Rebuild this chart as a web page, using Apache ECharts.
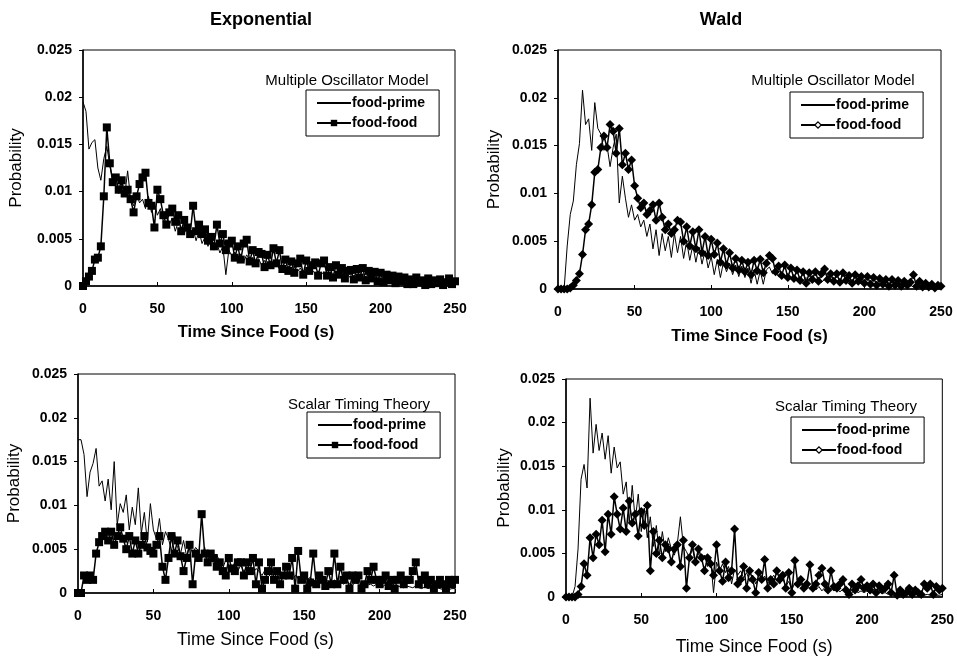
<!DOCTYPE html>
<html>
<head>
<meta charset="utf-8">
<script src="https://cdn.jsdelivr.net/npm/echarts@6/dist/echarts.min.js"></script>
<style>
    html, body { margin: 0; padding: 0; background: #fff; }
    #main { width: 957px; height: 659px; }
</style>
</head>
<body>
<div id="main"></div>
<script>
// time axis (s), one sample every 2 s
var times = [
    0, 2, 4, 6, 8, 10, 12, 14, 16, 18,
    20, 22, 24, 26, 28, 30, 32, 34, 36, 38,
    40, 42, 44, 46, 48, 50, 52, 54, 56, 58,
    60, 62, 64, 66, 68, 70, 72, 74, 76, 78,
    80, 82, 84, 86, 88, 90, 92, 94, 96, 98,
    100, 102, 104, 106, 108, 110, 112, 114, 116, 118,
    120, 122, 124, 126, 128, 130, 132, 134, 136, 138,
    140, 142, 144, 146, 148, 150, 152, 154, 156, 158,
    160, 162, 164, 166, 168, 170, 172, 174, 176, 178,
    180, 182, 184, 186, 188, 190, 192, 194, 196, 198,
    200, 202, 204, 206, 208, 210, 212, 214, 216, 218,
    220, 222, 224, 226, 228, 230, 232, 234, 236, 238,
    240, 242, 244, 246, 248, 250
];
var xTicks = [0, 50, 100, 150, 200, 250];
var yTicks = [0, 0.005, 0.01, 0.015, 0.02, 0.025];
var panelTitles = ['Exponential', 'Wald'];
var modelNames = ['Multiple Oscillator Model', 'Scalar Timing Theory'];

// Exponential / Multiple Oscillator Model
var expMomPrime = [
    0.0195, 0.0185, 0.0145, 0.0152, 0.0155, 0.0125, 0.0112, 0.0135, 0.0148, 0.0128,
    0.0112, 0.0105, 0.0098, 0.0108, 0.0095, 0.0122, 0.0092, 0.0085, 0.0098, 0.0088,
    0.0092, 0.0082, 0.0095, 0.0078, 0.0088, 0.0075, 0.0082, 0.0068, 0.0078, 0.0065,
    0.0072, 0.0058, 0.0068, 0.0062, 0.0055, 0.0065, 0.0052, 0.006, 0.0048, 0.0058,
    0.0045, 0.0052, 0.0042, 0.005, 0.0038, 0.0045, 0.0035, 0.0042, 0.0012, 0.0038,
    0.0032, 0.0036, 0.0028, 0.0034, 0.0026, 0.0033, 0.0028, 0.003, 0.0024, 0.0029,
    0.0022, 0.0027, 0.002, 0.0025, 0.0021, 0.0024, 0.0018, 0.0022, 0.0017, 0.0021,
    0.0016, 0.002, 0.0015, 0.0019, 0.0014, 0.0018, 0.0013, 0.0017, 0.0013, 0.0016,
    0.0012, 0.0015, 0.0011, 0.0014, 0.001, 0.0013, 0.001, 0.0012, 0.0009, 0.0012,
    0.0008, 0.0011, 0.0008, 0.001, 0.0007, 0.001, 0.0007, 0.0009, 0.0006, 0.0008,
    0.0006, 0.0008, 0.0005, 0.0007, 0.0005, 0.0007, 0.0004, 0.0006, 0.0004, 0.0006,
    0.0004, 0.0005, 0.0003, 0.0005, 0.0003, 0.0005, 0.0003, 0.0004, 0.0002, 0.0004,
    0.0002, 0.0004, 0.0002, 0.0003, 0.0002, 0.0003
];
var expMomFood = [
    0, 0.0005, 0.001, 0.0016, 0.0028, 0.003, 0.0042, 0.0095, 0.0168, 0.013,
    0.011, 0.0115, 0.0102, 0.0112, 0.0098, 0.0102, 0.0092, 0.0078, 0.0095, 0.0108,
    0.0115, 0.012, 0.0088, 0.0085, 0.0062, 0.0102, 0.0092, 0.0075, 0.0065, 0.0078,
    0.0082, 0.0068, 0.0075, 0.0058, 0.007, 0.0062, 0.0055, 0.0085, 0.0058, 0.0065,
    0.0055, 0.006, 0.0048, 0.0052, 0.0042, 0.0065, 0.0045, 0.0055, 0.0038, 0.0045,
    0.0048, 0.003, 0.0042, 0.0028, 0.0045, 0.0049, 0.0026, 0.0038, 0.0024, 0.0036,
    0.0034, 0.002, 0.0033, 0.0022, 0.004, 0.0024, 0.0038, 0.0018, 0.0028, 0.0016,
    0.0026, 0.0014, 0.0024, 0.0029, 0.0012, 0.0027, 0.0016, 0.0022, 0.0025, 0.0011,
    0.0024, 0.0027, 0.0011, 0.002, 0.0009, 0.0022, 0.0012, 0.0019, 0.0008, 0.0016,
    0.0017, 0.0007, 0.0018, 0.0009, 0.0019, 0.0006, 0.0016, 0.0008, 0.0015, 0.0005,
    0.0014, 0.0004, 0.0012, 0.0006, 0.0011, 0.0003, 0.001, 0.0005, 0.0009, 0.0002,
    0.0007, 0.0002, 0.0009, 0.0004, 0.0006, 0.0001, 0.0008, 0.0002, 0.0006, 0.0003,
    0.0007, 0.0001, 0.0004, 0.0008, 0.0002, 0.0005
];

// Wald / Multiple Oscillator Model
var waldMomPrime = [
    0, 0, 0, 0.0045, 0.0078, 0.0092, 0.013, 0.0152, 0.0208, 0.0172,
    0.0178, 0.0145, 0.0195, 0.0168, 0.0162, 0.0145, 0.015, 0.0128, 0.0148, 0.0162,
    0.009, 0.0118, 0.0095, 0.0075, 0.0088, 0.0072, 0.0078, 0.0065, 0.0072, 0.0055,
    0.0068, 0.0042, 0.0062, 0.0035, 0.0058, 0.004, 0.0055, 0.0033, 0.0058, 0.0038,
    0.0055, 0.0032, 0.005, 0.003, 0.0046, 0.0028, 0.0044, 0.0026, 0.004, 0.0022,
    0.0034, 0.0015, 0.0031, 0.0012, 0.0028, 0.0018, 0.0027, 0.0015, 0.0025, 0.0013,
    0.0024, 0.0012, 0.0022, 0.0006, 0.002, 0.0005, 0.0019, 0.0005, 0.002, 0.0023,
    0.0016, 0.0018, 0.0013, 0.0016, 0.0012, 0.0015, 0.0011, 0.0014, 0.001, 0.0013,
    0.0009, 0.0012, 0.0008, 0.0011, 0.0008, 0.001, 0.0007, 0.001, 0.0007, 0.0009,
    0.0007, 0.0009, 0.0006, 0.0008, 0.0006, 0.0008, 0.0005, 0.0008, 0.0005, 0.0007,
    0.0005, 0.0007, 0.0005, 0.0006, 0.0004, 0.0006, 0.0004, 0.0005, 0.0004, 0.0005,
    0.0003, 0.0005, 0.0003, 0.0004, 0.0003, 0.0004, 0.0002, 0.0004, 0.0002, 0.0003,
    0.0002, 0.0003, 0.0002, 0.0003, 0.0002, 0.0002
];
var waldMomFood = [
    0, 0, 0, 0, 0.0001, 0.0004, 0.0009, 0.0016, 0.0036, 0.0062,
    0.0068, 0.0088, 0.0122, 0.0125, 0.0148, 0.016, 0.0148, 0.0172, 0.0165, 0.0142,
    0.0168, 0.013, 0.0142, 0.0125, 0.0135, 0.0108, 0.0095, 0.0085, 0.009, 0.0078,
    0.0082, 0.0088, 0.0072, 0.009, 0.0075, 0.0062, 0.0068, 0.0058, 0.0062, 0.0072,
    0.007, 0.005, 0.0065, 0.0045, 0.006, 0.0042, 0.0062, 0.0038, 0.0055, 0.0035,
    0.0052, 0.0036, 0.0048, 0.0028, 0.0042, 0.0025, 0.0038, 0.0022, 0.0032, 0.002,
    0.003, 0.0018, 0.0028, 0.0015, 0.003, 0.0019, 0.0031, 0.0017, 0.0027, 0.0035,
    0.0032, 0.0018, 0.0024, 0.0014, 0.0025, 0.0012, 0.0022, 0.0011, 0.002, 0.0009,
    0.0018, 0.0006, 0.0017, 0.001, 0.0018, 0.0008, 0.0016, 0.0021, 0.001, 0.0016,
    0.0008, 0.0016, 0.0007, 0.0017, 0.0009, 0.0014, 0.0006, 0.0015, 0.0008, 0.0013,
    0.0006, 0.0013, 0.0005, 0.0012, 0.0004, 0.0011, 0.0005, 0.001, 0.0003, 0.001,
    0.0004, 0.0009, 0.0003, 0.0008, 0.0004, 0.0007, 0.0015, 0.0003, 0.0008, 0.0002,
    0.0006, 0.0002, 0.0005, 0.0001, 0.0004, 0.0003
];

// Exponential / Scalar Timing Theory
var expSttPrime = [
    0.0175, 0.0175, 0.0158, 0.011, 0.0138, 0.0148, 0.0165, 0.0122, 0.0128, 0.0105,
    0.013, 0.0095, 0.015, 0.0078, 0.0102, 0.0092, 0.0112, 0.0072, 0.0098, 0.0078,
    0.012, 0.0068, 0.0092, 0.0058, 0.0102, 0.0072, 0.0062, 0.0085, 0.0055, 0.007,
    0.0062, 0.0048, 0.0068, 0.0052, 0.0045, 0.006, 0.0042, 0.0055, 0.0045, 0.0052,
    0.0048, 0.004, 0.0052, 0.0036, 0.0046, 0.0032, 0.0044, 0.0035, 0.0028, 0.0038,
    0.0032, 0.0028, 0.0035, 0.0025, 0.0032, 0.0024, 0.003, 0.0026, 0.0022, 0.0028,
    0.0025, 0.002, 0.0026, 0.0022, 0.0018, 0.0025, 0.002, 0.0023, 0.0017, 0.0022,
    0.0019, 0.0015, 0.002, 0.0017, 0.0014, 0.0019, 0.0015, 0.0018, 0.0013, 0.0016,
    0.0014, 0.0012, 0.0016, 0.0013, 0.0011, 0.0015, 0.0012, 0.0014, 0.001, 0.0013,
    0.0011, 0.0009, 0.0012, 0.001, 0.0008, 0.0011, 0.0009, 0.001, 0.0008, 0.001,
    0.0009, 0.0007, 0.001, 0.0008, 0.0006, 0.0009, 0.0007, 0.0008, 0.0006, 0.0008,
    0.0007, 0.0006, 0.0008, 0.0006, 0.0005, 0.0007, 0.0005, 0.0006, 0.0004, 0.0006,
    0.0005, 0.0004, 0.0006, 0.0004, 0.0005, 0.0005
];
var expSttFood = [
    0, 0, 0.002, 0.0015, 0.002, 0.0015, 0.0045, 0.0058, 0.0065, 0.007,
    0.006, 0.007, 0.0055, 0.0065, 0.0075, 0.0062, 0.005, 0.0065, 0.0045, 0.006,
    0.0045, 0.0055, 0.0065, 0.0052, 0.0048, 0.0045, 0.0055, 0.0065, 0.003, 0.0015,
    0.004, 0.0065, 0.0045, 0.006, 0.0042, 0.0025, 0.004, 0.0055, 0.001, 0.0045,
    0.004, 0.009, 0.0045, 0.0035, 0.0045, 0.004, 0.003, 0.0035, 0.0025, 0.002,
    0.004, 0.0028, 0.0025, 0.0035, 0.0035, 0.002, 0.0035, 0.0025, 0.004, 0.001,
    0.0035, 0.0005, 0.0015, 0.0025, 0.0035, 0.0015, 0.0025, 0.001, 0.002, 0.003,
    0.002, 0.004, 0.0005, 0.0048, 0.0015, 0.002, 0.0005, 0.0012, 0.0045, 0.001,
    0.002, 0.0015, 0.0008, 0.0025, 0.001, 0.0045, 0.001, 0.003, 0.0015, 0.002,
    0.0005, 0.002, 0.0015, 0.002, 0.0005, 0.001, 0.0025, 0.0015, 0.003, 0.0015,
    0.001, 0.0015, 0.002, 0.0008, 0.0015, 0.0005, 0.0015, 0.002, 0.001, 0.0015,
    0.0015, 0.0025, 0.0035, 0.001, 0.0015, 0.002, 0.001, 0.0015, 0.0005, 0.001,
    0.0015, 0.001, 0.0005, 0.0015, 0.001, 0.0015
];

// Wald / Scalar Timing Theory
var waldSttPrime = [
    0, 0, 0, 0.0012, 0.0055, 0.0135, 0.0152, 0.0125, 0.0228, 0.0165,
    0.0198, 0.0168, 0.0188, 0.0158, 0.0185, 0.0142, 0.0172, 0.0148, 0.0155, 0.0118,
    0.0132, 0.0085, 0.0128, 0.0088, 0.0118, 0.0075, 0.0102, 0.0068, 0.0092, 0.0058,
    0.0082, 0.0048, 0.0075, 0.0052, 0.0068, 0.0055, 0.0048, 0.0062, 0.0092, 0.0058,
    0.0052, 0.0045, 0.0055, 0.004, 0.005, 0.0042, 0.0048, 0.0035, 0.0045, 0.0005,
    0.004, 0.003, 0.0038, 0.0028, 0.0035, 0.0015, 0.0032, 0.0025, 0.003, 0.0022,
    0.0028, 0.0018, 0.0025, 0.0015, 0.0022, 0.0018, 0.0024, 0.0015, 0.002, 0.0025,
    0.0018, 0.0015, 0.0022, 0.0012, 0.0018, 0.0008, 0.0016, 0.0012, 0.0015, 0.001,
    0.0014, 0.0009, 0.0013, 0.0008, 0.0012, 0.0007, 0.0011, 0.0008, 0.001, 0.0007,
    0.0009, 0.0006, 0.0009, 0.0006, 0.0008, 0.0005, 0.0008, 0.0005, 0.0007, 0.0005,
    0.0007, 0.0004, 0.0006, 0.0005, 0.0006, 0.0004, 0.0005, 0.0003, 0.0005, 0.0004,
    0.0004, 0.0003, 0.0005, 0.0003, 0.0004, 0.0002, 0.0004, 0.0003, 0.0003, 0.0002,
    0.0003, 0.0002, 0.0003, 0.0002, 0.0002, 0.0003
];
var waldSttFood = [
    0, 0, 0, 0, 0.0003, 0.0012, 0.0038, 0.0025, 0.0068, 0.0045,
    0.0072, 0.006, 0.0088, 0.0052, 0.0095, 0.0072, 0.0115, 0.0095, 0.0078, 0.0102,
    0.0075, 0.011, 0.0085, 0.0095, 0.007, 0.0098, 0.0082, 0.0105, 0.003, 0.0075,
    0.005, 0.0065, 0.0045, 0.006, 0.0055, 0.004, 0.0055, 0.006, 0.0035, 0.0065,
    0.001, 0.0045, 0.006, 0.004, 0.0055, 0.0045, 0.003, 0.0045, 0.0038, 0.0025,
    0.006, 0.003, 0.0018, 0.004, 0.0022, 0.003, 0.0078, 0.0015, 0.002, 0.0035,
    0.001, 0.003, 0.002, 0.0005, 0.0028, 0.002, 0.0043, 0.001, 0.002, 0.0015,
    0.003, 0.002, 0.0025, 0.001, 0.0028, 0.0005, 0.0042, 0.0015, 0.002, 0.001,
    0.0015, 0.0037, 0.001, 0.0015, 0.0025, 0.0033, 0.0015, 0.0008, 0.003, 0.0012,
    0.001, 0.0015, 0.002, 0.0008, 0.0003, 0.0015, 0.0008, 0.0013, 0.002, 0.001,
    0.0013, 0.0008, 0.0015, 0.0005, 0.0013, 0.0008, 0.001, 0.0015, 0.0005, 0.0025,
    0.0002, 0.0008, 0.0003, 0.0005, 0.001, 0.0003, 0.0008, 0.0005, 0.0003, 0.0015,
    0.001, 0.0015, 0.0003, 0.0012, 0.0008, 0.001
];

var myChart = echarts.init(document.getElementById('main'));

var font = 'Liberation Sans, Arial, sans-serif';
// panel boxes [left, top, width, height] in px
var grids = [
    [83, 50, 372, 236],
    [558, 50, 383, 239],
    [78, 374, 377, 219],
    [566, 379, 377, 218]
];
var xNameGaps = [38, 39, 38, 41];
var xNameShift = [26, 0, 22, 0];   // right padding pulls the title left
var yNameGaps = [58, 55, 55, 53];
var xNameBold = [true, true, false, false];

function pairs(vals) {
    return times.map(function (t, i) { return [t, vals[i]]; });
}

var xAxes = [], yAxes = [], gridOpts = [];
grids.forEach(function (g, i) {
    gridOpts.push({
        left: g[0], top: g[1], width: g[2], height: g[3],
        show: true, borderColor: '#000', borderWidth: 1, backgroundColor: '#fff'
    });
    xAxes.push({
        gridIndex: i, type: 'value', min: xTicks[0], max: xTicks[xTicks.length - 1], interval: 50,
        name: 'Time Since Food (s)', nameLocation: 'middle', nameGap: xNameGaps[i],
        nameTextStyle: {
            fontFamily: font, color: '#000',
            fontSize: xNameBold[i] ? 16.5 : 17.5,
            fontWeight: xNameBold[i] ? 'bold' : 'normal',
            padding: [0, xNameShift[i], 0, 0]
        },
        axisLine: { lineStyle: { color: '#000', width: 1.5 } },
        axisTick: { inside: true, length: 4, lineStyle: { color: '#000' } },
        axisLabel: { fontFamily: font, fontWeight: 'bold', fontSize: 14, color: '#000', margin: 16 },
        splitLine: { show: false }
    });
    yAxes.push({
        gridIndex: i, type: 'value', min: yTicks[0], max: yTicks[yTicks.length - 1], interval: 0.005,
        name: 'Probability', nameLocation: 'middle', nameGap: yNameGaps[i],
        nameTextStyle: { fontFamily: font, fontSize: 17, color: '#000' },
        axisLine: { show: true, lineStyle: { color: '#000', width: 1.5 } },
        axisTick: { show: true, length: 4, lineStyle: { color: '#000' } },
        axisLabel: { fontFamily: font, fontWeight: 'bold', fontSize: 14, color: '#000', margin: 11 },
        splitLine: { show: false }
    });
});

// series per panel: [primeData, foodData, marker]
var panels = [
    [expMomPrime, expMomFood, 'rect'],
    [waldMomPrime, waldMomFood, 'diamond'],
    [expSttPrime, expSttFood, 'rect'],
    [waldSttPrime, waldSttFood, 'diamond']
];
var series = [];
panels.forEach(function (p, i) {
    series.push({
        name: 'fp' + i, type: 'line', xAxisIndex: i, yAxisIndex: i,
        data: pairs(p[0]), symbol: 'none',
        lineStyle: { color: '#000', width: 1 }, itemStyle: { color: '#000' },
        z: 3
    });
    series.push({
        name: 'ff' + i, type: 'line', xAxisIndex: i, yAxisIndex: i,
        data: pairs(p[1]), symbol: p[2], symbolSize: p[2] === 'rect' ? 8 : 9,
        lineStyle: { color: '#000', width: 1.5 }, itemStyle: { color: '#000' },
        z: 2
    });
});

var legendBoxes = [
    [306, 90], [790, 92], [307, 412], [791, 417]
];
var legends = legendBoxes.map(function (b, i) {
    var diamond = panels[i][2] === 'diamond';
    return {
        left: b[0], top: b[1], orient: 'vertical',
        itemWidth: 34, itemHeight: 8, itemGap: 6,
        padding: [6, 14, 6, 10],
        borderColor: '#000', borderWidth: 1, backgroundColor: '#fff',
        selectedMode: false,
        textStyle: { fontFamily: font, fontWeight: 'bold', fontSize: 14, color: '#000', padding: [0, 0, 0, -4] },
        formatter: function (n) { return n.indexOf('fp') === 0 ? 'food-prime' : 'food-food'; },
        data: [
            { name: 'fp' + i, itemStyle: { color: 'rgba(0,0,0,0)', borderWidth: 0, opacity: 0 } },
            diamond ? { name: 'ff' + i, itemStyle: { color: '#fff', borderColor: '#000', borderWidth: 1.2 } }
                    : { name: 'ff' + i }
        ]
    };
});

var titles = [
    { text: panelTitles[0], left: 256, top: 6, textAlign: 'center' },
    { text: panelTitles[1], left: 716, top: 6, textAlign: 'center' }
].map(function (t) {
    t.textStyle = { fontFamily: font, fontWeight: 'bold', fontSize: 18, color: '#000' };
    return t;
});
var modelLabels = [
    [342, 68, 0], [828, 68, 0], [354, 392, 1], [841, 394, 1]
].map(function (m) {
    return {
        text: modelNames[m[2]], left: m[0], top: m[1], textAlign: 'center',
        textStyle: { fontFamily: font, fontWeight: 'normal', fontSize: 15, color: '#000' }
    };
});

var option = {
    animation: false,
    backgroundColor: '#fff',
    title: titles.concat(modelLabels),
    grid: gridOpts,
    xAxis: xAxes,
    yAxis: yAxes,
    legend: legends,
    series: series
};
myChart.setOption(option);
</script>
</body>
</html>
